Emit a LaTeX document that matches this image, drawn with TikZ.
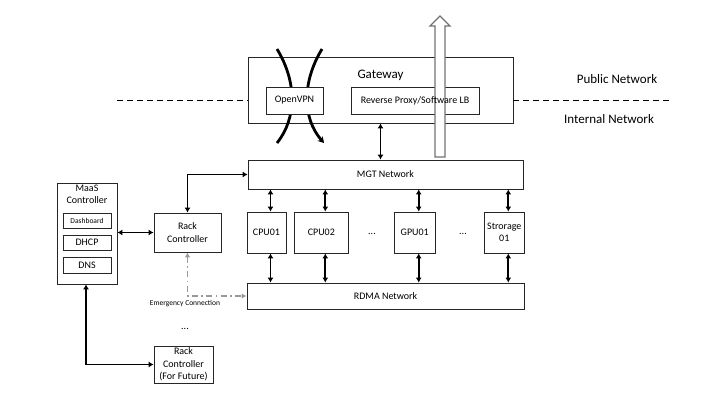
\documentclass[tikz,border=0pt]{standalone}
\usepackage{fontspec}
\setmainfont{Carlito}
\usetikzlibrary{arrows.meta}
\begin{document}
\begin{tikzpicture}[x=1pt,y=-1pt,
  box/.style={draw=black!85, line width=0.8pt, fill=white, inner sep=0pt, align=center, font=\fontsize{10}{11.5}\selectfont},
  arr/.style={line width=1.8pt, {Latex[length=5pt,width=6pt]}-{Latex[length=5pt,width=6pt]}},
  emerg/.style={draw=black!40, line width=1.5pt, dash pattern=on 6pt off 3.5pt on 1.5pt off 3.5pt, {Latex[length=5pt,width=5.5pt]}-{Latex[length=5pt,width=5.5pt]}},
  curv/.style={line width=2.8pt},
  lbl/.style={inner sep=0pt, align=center}
]
\useasboundingbox (0,0) rectangle (720,405);

% Gateway
\node[box, minimum width=265, minimum height=66] (gw) at (380.5,90) {};
\node[lbl, font=\fontsize{13}{15}\selectfont] (gwl) at (380.5,75) {Gateway};

% boundary dashed line
\coordinate (dl) at (117,100);
\coordinate (dr) at (673,100);
\draw[black, line width=0.9pt, dash pattern=on 6pt off 4pt] (dl) -- (dl -| gw.west);
\draw[black, line width=0.9pt, dash pattern=on 6pt off 4pt] (dr -| gw.east) -- (dr);
\node[lbl, font=\fontsize{13}{15}\selectfont] (pub) at (617,79) {Public Network};
\node[lbl, font=\fontsize{13}{15}\selectfont] (int) at (609,119) {Internal Network};

% OpenVPN crossing curves
\coordinate (c1a) at (277,49);
\coordinate (c1b) at (277,143);
\coordinate (c2a) at (322,49);
\coordinate (c2b) at (324,143);
\draw[curv] (c1a) .. controls (297,82) and (297,118) .. (c1b);
\draw[curv, -{Stealth[length=6pt,width=7pt]}] (c2a) .. controls (302,82) and (302,118) .. (c2b);

\node[box, minimum width=57, minimum height=27] (vpn) at (294.5,100.5) {OpenVPN};
\node[box, minimum width=128, minimum height=27] (rp) at (415,100.5) {};

% hollow arrow to the internet
\coordinate (ha) at (440,16);
\draw[draw=black!55, line width=1.2pt, fill=white, line join=miter]
  (435,157) -- (435,26) -- (430,26) -- (ha) -- (450,26) -- (445,26) -- (445,157) -- cycle;
\node[lbl, font=\fontsize{10}{11.5}\selectfont] (rpl) at (rp.center) {Reverse Proxy/Software LB};

% MGT network
\node[box, minimum width=275, minimum height=29] (mgt) at (385.5,174.5) {MGT Network};
\draw[arr] (gw.south) -- (gw.south |- mgt.north);

% compute nodes
\node[box, minimum width=39, minimum height=41] (cpu1) at (266.5,232.5) {CPU01};
\node[box, minimum width=54, minimum height=41] (cpu2) at (321.3,232.5) {CPU02};
\node[box, minimum width=41, minimum height=41] (gpu1) at (414.7,232.5) {GPU01};
\node[box, minimum width=40, minimum height=41] (sto) at (504.3,232.5) {Strorage\\01};
\node[lbl, font=\fontsize{10}{11.5}\selectfont] (dots1) at (372,234) {...};
\node[lbl, font=\fontsize{10}{11.5}\selectfont] (dots2) at (463,234) {...};

% RDMA network
\node[box, minimum width=277, minimum height=26] (rdma) at (385.5,296) {RDMA Network};

\foreach \n in {cpu1,cpu2,gpu1,sto}{
  \draw[arr] ([xshift=4]\n.north) -- ([xshift=4]\n.north |- mgt.south);
  \draw[arr] ([xshift=4]\n.south) -- ([xshift=4]\n.south |- rdma.north);
}

% MaaS controller
\node[box, minimum width=60, minimum height=101] (maas) at (87,233.5) {};
\node[lbl, font=\fontsize{10}{12.5}\selectfont, anchor=north] (maasl) at (87,184.5) {MaaS\\Controller};
\node[box, minimum width=48, minimum height=15, font=\fontsize{7.5}{8}\selectfont] (dash) at (87,220.5) {Dashboard};
\node[box, minimum width=48, minimum height=15] (dhcp) at (87,242.5) {DHCP};
\node[box, minimum width=48, minimum height=16] (dns) at (87,265) {DNS};

% Rack controllers
\node[box, minimum width=67, minimum height=39, font=\fontsize{10}{12.5}\selectfont] (rack) at (187.5,232.5) {Rack\\Controller};
\node[box, minimum width=59, minimum height=37, font=\fontsize{10}{12.5}\selectfont] (fut) at (183.5,364.5) {Rack\\Controller\\(For Future)};
\node[lbl, font=\fontsize{10}{11.5}\selectfont] (dots3) at (185,329) {...};

\draw[arr] (rack.west -| maas.east) -- (rack.west);
\draw[arr] (rack.north) |- (mgt.west);
\draw[arr] ([xshift=-1]maas.south) |- (fut.west);
\draw[emerg] (rack.south) |- (rdma.west);
\node[lbl, font=\fontsize{7.5}{8}\selectfont] (eml) at (185,304) {Emergency Connection};

\end{tikzpicture}
\end{document}
